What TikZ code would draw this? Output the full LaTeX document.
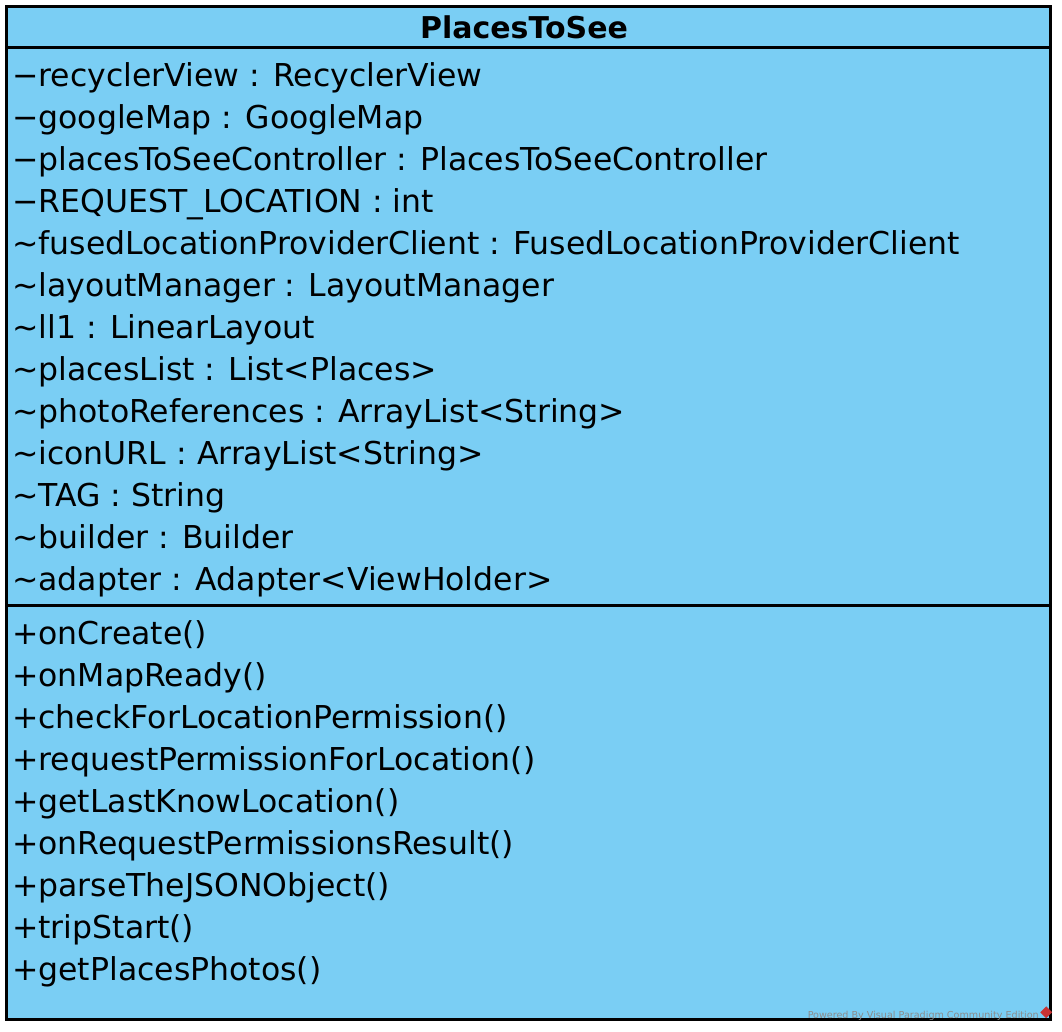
\documentclass[tikz,border=0pt]{standalone}
\usepackage{fontspec}
\setmainfont{DejaVu Sans}
\usepackage{tikz}
\usepackage{xcolor}
\usetikzlibrary{positioning}
\usetikzlibrary{shapes.geometric}
\definecolor{classblue}{RGB}{122,206,244}
\definecolor{vpred}{RGB}{200,50,50}
\tikzstyle{classbox} = [rectangle, draw=black, fill=classblue, line width=3pt, minimum width=1044pt, minimum height=1013pt, inner sep=0pt]
\tikzstyle{classname} = [font=\fontsize{30}{42}\selectfont\bfseries, inner sep=0pt]
\tikzstyle{members} = [align=left, font=\fontsize{31.5}{42}\selectfont, inner sep=0pt, anchor=base west]
\tikzstyle{divider} = [line width=3pt]
\tikzstyle{watermark} = [font=\fontsize{9.6}{9.6}\selectfont, text=gray!90, inner sep=0pt, anchor=base east]

\begin{document}
\begin{tikzpicture}[x=1pt, y=-1pt]
        \useasboundingbox (0,0) rectangle (1062,1032);
        \node (places_to_see) [classbox] at (528.5,513) {};
        \node (class_name) [classname] at (524,27) {PlacesToSee};
        \node (attributes) [members] at (12,590) {%
            −recyclerView : RecyclerView\\
            −googleMap : GoogleMap\\
            −placesToSeeController : PlacesToSeeController\\
            −REQUEST\_LOCATION : int\\
            \textasciitilde fusedLocationProviderClient : FusedLocationProviderClient\\
            \textasciitilde layoutManager : LayoutManager\\
            \textasciitilde ll1 : LinearLayout\\
            \textasciitilde placesList : List<Places>\\
            \textasciitilde photoReferences : ArrayList<String>\\
            \textasciitilde iconURL : ArrayList<String>\\
            \textasciitilde TAG : String\\
            \textasciitilde builder : Builder\\
            \textasciitilde adapter : Adapter<ViewHolder>};
        \node (operations) [members] at (12,980) {%
            +onCreate()\\
            +onMapReady()\\
            +checkForLocationPermission()\\
            +requestPermissionForLocation()\\
            +getLastKnowLocation()\\
            +onRequestPermissionsResult()\\
            +parseTheJSONObject()\\
            +tripStart()\\
            +getPlacesPhotos()};
        \node (powered_by) [watermark] at (1039,1018) {Powered By Visual Paradigm Community Edition};
        \node (vp_logo) [diamond, fill=vpred, inner sep=0pt, minimum size=12pt, right=1pt of powered_by.east, yshift=3pt] {};

        \draw [divider] (places_to_see.west |- 0,48) -- (places_to_see.east |- 0,48);
        \draw [divider] (places_to_see.west |- 0,605) -- (places_to_see.east |- 0,605);
    \end{tikzpicture}
\end{document}
